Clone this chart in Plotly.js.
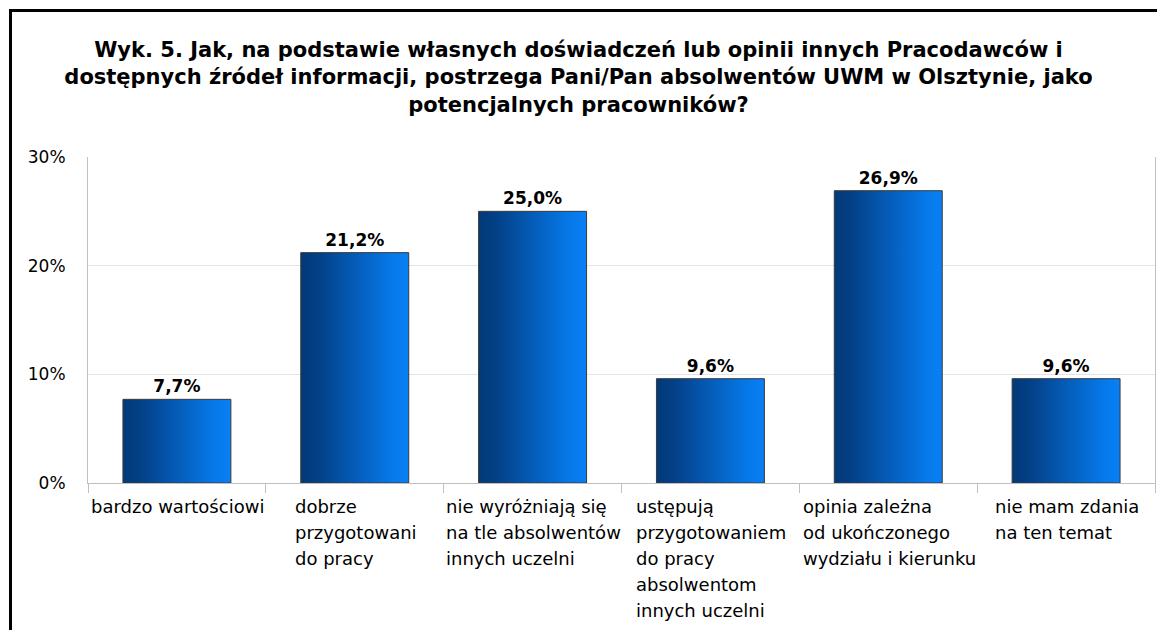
<!DOCTYPE html>
<html>
<head>
<meta charset="utf-8">
<script src="https://cdn.plot.ly/plotly-3.0.1.min.js"></script>
<style>
  html, body { margin: 0; padding: 0; background: #fff; overflow: hidden; }
  #chart { width: 1157px; height: 630px; position: absolute; left: 0; top: 0; }
  #frame { position: absolute; left: 9px; top: 9px; width: 1400px; height: 900px;
           border-left: 3px solid #000; border-top: 3px solid #000; pointer-events: none; }
</style>
</head>
<body>
<div id="chart"></div>
<div id="frame"></div>
<script>
// ---- data ----
const titleLines = [
  'Wyk. 5. Jak, na podstawie własnych doświadczeń lub opinii innych Pracodawców i',
  'dostępnych źródeł informacji, postrzega Pani/Pan absolwentów UWM w Olsztynie, jako',
  'potencjalnych pracowników?'
];
const labelLines = [
  ['bardzo wartościowi'],
  ['dobrze', 'przygotowani', 'do pracy'],
  ['nie wyróżniają się', 'na tle absolwentów', 'innych uczelni'],
  ['ustępują', 'przygotowaniem', 'do pracy', 'absolwentom', 'innych uczelni'],
  ['opinia zależna', 'od ukończonego', 'wydziału i kierunku'],
  ['nie mam zdania', 'na ten temat']
];
const categories = labelLines.map(l => l.join(' '));
const values = [7.7, 21.2, 25.0, 9.6, 26.9, 9.6];
const yTicks = [0, 10, 20, 30];
const yTickText = ['0%', '10%', '20%', '30%'];

// ---- styling ----
const FONT = 'DejaVu Sans, Verdana, sans-serif';
const labelSize = 18;
const lineStep = 26;

const canvas = document.createElement('canvas');
const ctx = canvas.getContext('2d');
ctx.font = labelSize + 'px "DejaVu Sans"';

const annotations = [];
labelLines.forEach((lines, i) => {
  const maxW = Math.max(...lines.map(t => ctx.measureText(t).width));
  lines.forEach((t, k) => {
    annotations.push({
      xref: 'x', yref: 'paper', x: i, y: 0,
      xanchor: 'left', yanchor: 'middle',
      xshift: -maxW / 2, yshift: -(23 + k * lineStep),
      text: t, showarrow: false, align: 'left',
      borderpad: 0,
      font: {family: FONT, size: labelSize, color: '#000'}
    });
  });
});

const trace = {
  type: 'bar',
  x: categories,
  y: values,
  marker: {color: '#0560c0', line: {color: '#3a3a3a', width: 1}},
  texttemplate: '%{y:.1f}%',
  textposition: 'outside',
  cliponaxis: false,
  textfont: {family: FONT, size: 17, color: '#000', weight: 'bold'},
  hoverinfo: 'x+y'
};

const layout = {
  width: 1157, height: 630,
  margin: {l: 88, r: 2, t: 157, b: 147},
  paper_bgcolor: '#fff', plot_bgcolor: '#fff',
  separators: ', ',
  showlegend: false,
  bargap: 0.393,
  title: {
    text: titleLines.join('<br>'),
    x: 0.5, xanchor: 'center',
    y: 1 - 57 / 630, yanchor: 'top', yref: 'container',
    font: {family: FONT, size: 21, color: '#000', weight: 'bold'}
  },
  xaxis: {
    type: 'category',
    range: [-0.5, 5.5],
    tickson: 'boundaries',
    ticks: 'outside', ticklen: 9, tickcolor: '#c0c0c0', tickwidth: 1,
    showticklabels: false,
    showline: true, linecolor: '#c0c0c0', linewidth: 1,
    showgrid: false,
    fixedrange: true
  },
  yaxis: {
    range: [0, 30],
    tickmode: 'array',
    tickvals: yTicks,
    ticktext: yTickText,
    ticks: '',
    ticklabelstandoff: 18,
    tickfont: {family: FONT, size: 17, color: '#000'},
    showline: true, linecolor: '#c0c0c0', linewidth: 1, mirror: true,
    showgrid: true, gridcolor: '#e3e3e3', gridwidth: 1,
    zeroline: false,
    fixedrange: true
  },
  annotations: annotations
};

Plotly.newPlot('chart', [trace], layout, {displayModeBar: false, staticPlot: true}).then(gd => {
  const svg = gd.querySelector('svg.main-svg');
  const NS = 'http://www.w3.org/2000/svg';
  let defs = svg.querySelector('defs');
  if (!defs) { defs = document.createElementNS(NS, 'defs'); svg.insertBefore(defs, svg.firstChild); }
  const g = document.createElementNS(NS, 'linearGradient');
  g.setAttribute('id', 'barGrad');
  g.setAttribute('x1', '0'); g.setAttribute('y1', '0');
  g.setAttribute('x2', '1'); g.setAttribute('y2', '0');
  [['0', '#023a78'], ['0.15', '#033f85'], ['0.85', '#0679ea'], ['1', '#0880f5']].forEach(([o, c]) => {
    const s = document.createElementNS(NS, 'stop');
    s.setAttribute('offset', o); s.setAttribute('stop-color', c);
    g.appendChild(s);
  });
  defs.appendChild(g);
  gd.querySelectorAll('.bars .point path').forEach(p => { p.style.fill = 'url(#barGrad)'; });
});
</script>
</body>
</html>
